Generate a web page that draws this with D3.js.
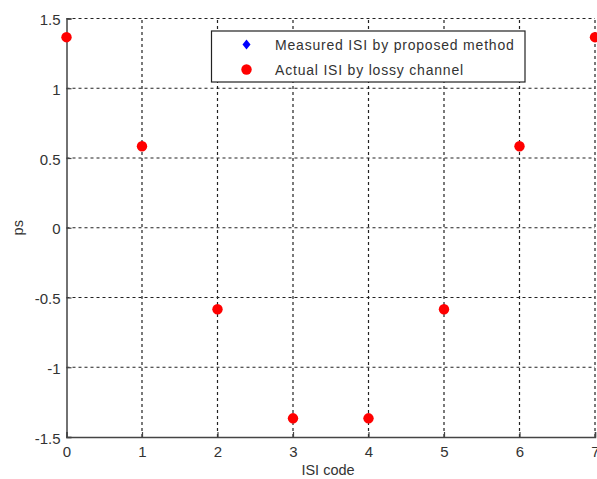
<!DOCTYPE html>
<html>
<head>
<meta charset="utf-8">
<script src="https://cdn.jsdelivr.net/npm/d3@7"></script>
<style>
  body { margin: 0; background: #fff; }
  text { font-family: Arial, "Liberation Sans", sans-serif; }
</style>
</head>
<body>
<div id="main"></div>
<script>
'use strict';

// ISI code vs. ISI (ps)
var isiCodes = [0, 1, 2, 3, 4, 5, 6, 7];
var actualIsi = [1.366, 0.584, -0.584, -1.366, -1.366, -0.584, 0.584, 1.366];
var measuredIsi = [1.366, 0.584, -0.584, -1.366, -1.366, -0.584, 0.584, 1.366];
var xTicks = [0, 1, 2, 3, 4, 5, 6, 7];
var yTicks = [-1.5, -1, -0.5, 0, 0.5, 1, 1.5];
var legendLabels = ['Measured ISI by proposed method', 'Actual ISI by lossy channel'];

var width = 597;
var height = 479;
var margin = {left: 66.5, top: 18.5, right: 2, bottom: 42};
var axisColor = '#444';

var svg = d3.select('#main').append('svg')
	.attr('width', width)
	.attr('height', height);

var x = d3.scaleLinear().domain([0, 7]).range([margin.left, width - margin.right]);
var y = d3.scaleLinear().domain([-1.5, 1.5]).range([height - margin.bottom, margin.top]);

// grid
var grid = svg.append('g')
	.attr('stroke', '#222')
	.attr('stroke-width', 1.2)
	.attr('stroke-dasharray', '3,3');
grid.selectAll('.gx').data(xTicks.slice(1)).enter().append('line')
	.attr('x1', function(d) { return x(d); })
	.attr('x2', function(d) { return x(d); })
	.attr('y1', y(-1.5))
	.attr('y2', y(1.5));
grid.selectAll('.gy').data(yTicks.slice(1)).enter().append('line')
	.attr('x1', x(0))
	.attr('x2', x(7))
	.attr('y1', function(d) { return y(d); })
	.attr('y2', function(d) { return y(d); });

// axes
var xAxis = d3.axisBottom(x).tickValues(xTicks).tickSize(-5).tickPadding(9)
	.tickFormat(d3.format('d'));
var yAxis = d3.axisLeft(y).tickValues(yTicks).tickSize(-5).tickPadding(6)
	.tickFormat(function(d) { return String(d); });

var gx = svg.append('g')
	.attr('transform', 'translate(0,' + y(-1.5) + ')')
	.call(xAxis);
var gy = svg.append('g')
	.attr('transform', 'translate(' + x(0) + ',0)')
	.call(yAxis);

[gx, gy].forEach(function(g) {
	g.select('.domain').attr('stroke', axisColor).attr('stroke-width', 1.5);
	g.selectAll('.tick line').attr('stroke', axisColor).attr('stroke-width', 1.2);
	g.selectAll('.tick text')
		.attr('fill', '#333')
		.style('font-size', '15px')
		.style('font-family', 'Arial, "Liberation Sans", sans-serif');
});
gy.selectAll('.tick text').attr('dy', '0.4em');

// axis labels
svg.append('text')
	.attr('x', 328)
	.attr('y', 475)
	.attr('text-anchor', 'middle')
	.attr('fill', '#333')
	.style('font-size', '14.5px')
	.text('ISI code');
svg.append('text')
	.attr('transform', 'translate(23,' + y(0) + ') rotate(-90)')
	.attr('text-anchor', 'middle')
	.attr('fill', '#333')
	.style('font-size', '14.5px')
	.text('ps');

// data
var diamond = 'M0,-5L4,0L0,5L-4,0Z';
svg.append('g').selectAll('path').data(isiCodes).enter().append('path')
	.attr('d', diamond)
	.attr('transform', function(d, i) { return 'translate(' + x(d) + ',' + y(measuredIsi[i]) + ')'; })
	.attr('fill', '#0000ff');
svg.append('g').selectAll('circle').data(isiCodes).enter().append('circle')
	.attr('cx', function(d) { return x(d); })
	.attr('cy', function(d, i) { return y(actualIsi[i]); })
	.attr('r', 5.2)
	.attr('fill', '#ff0000');

// legend
var legend = svg.append('g');
legend.append('rect')
	.attr('x', 211.5)
	.attr('y', 31)
	.attr('width', 313.5)
	.attr('height', 51)
	.attr('fill', '#fff')
	.attr('stroke', '#222')
	.attr('stroke-width', 1.2);
legend.append('path')
	.attr('d', diamond)
	.attr('transform', 'translate(246.5,44.5)')
	.attr('fill', '#0000ff');
legend.append('circle')
	.attr('cx', 246.5)
	.attr('cy', 69.5)
	.attr('r', 5.2)
	.attr('fill', '#ff0000');
legend.selectAll('text').data(legendLabels).enter().append('text')
	.attr('x', 275)
	.attr('y', function(d, i) { return 50 + i * 25; })
	.attr('fill', '#333')
	.style('font-size', '14px')
	.style('letter-spacing', '0.8px')
	.text(function(d) { return d; });
</script>
</body>
</html>
